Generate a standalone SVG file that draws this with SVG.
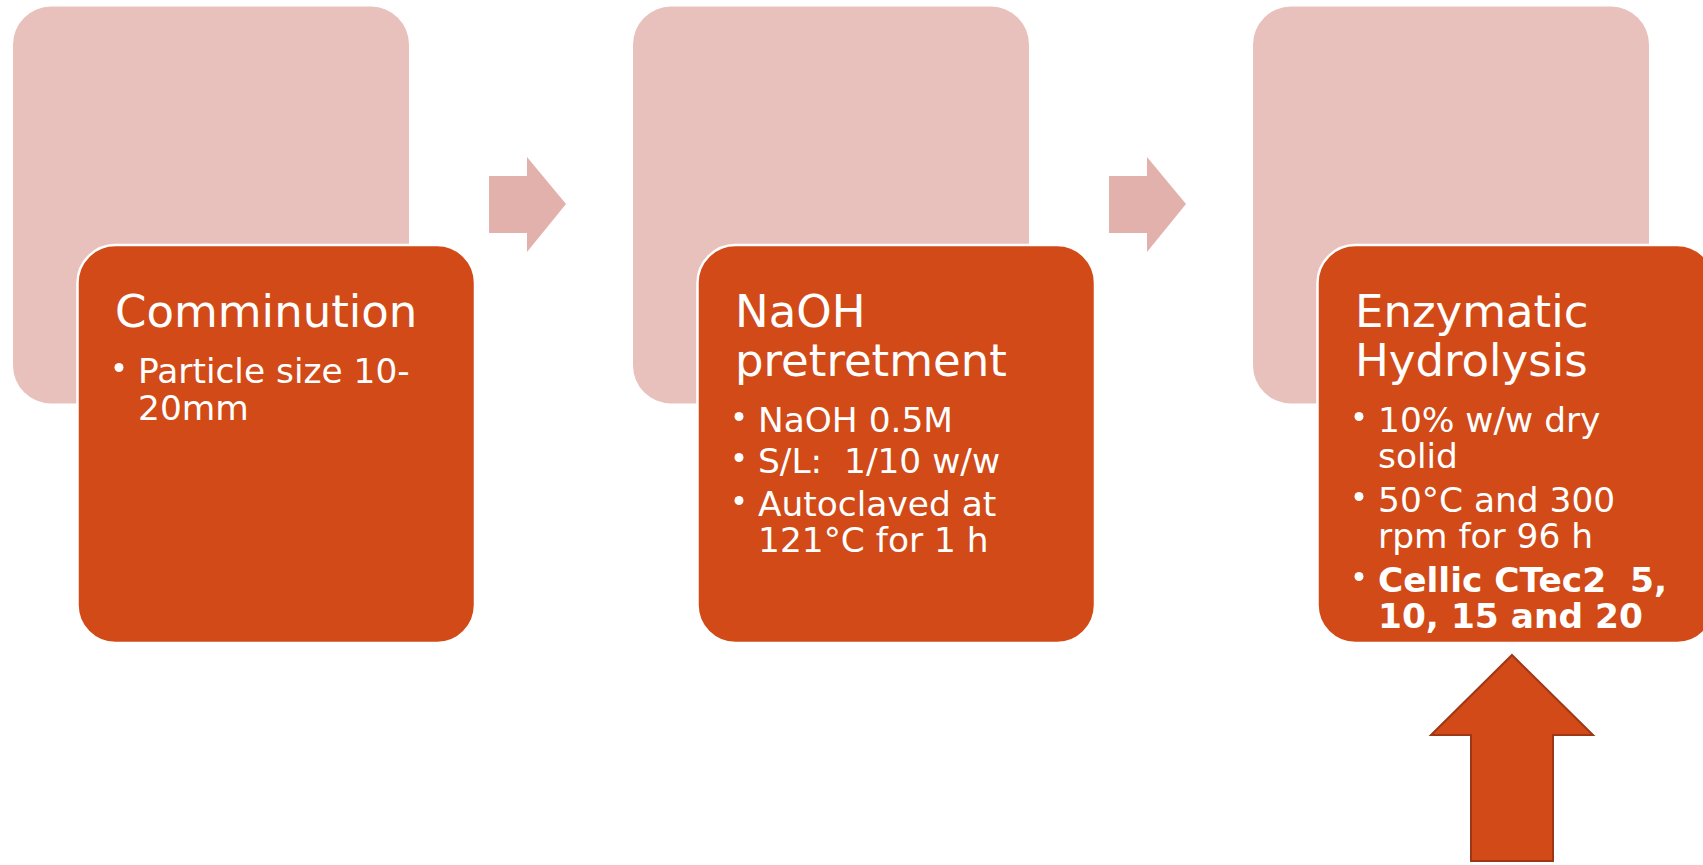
<svg xmlns="http://www.w3.org/2000/svg" width="1703" height="865" viewBox="0 0 1703 865">
  <style>
    .back { fill: #E9C1BC; }
    .card { fill: #D14A18; stroke: #FFFFFF; stroke-width: 2.5; }
    .step { fill: #E3B1AB; }
    .title { font-family: "DejaVu Sans", "Verdana", sans-serif; font-size: 45px; fill: #FFFFFF; }
    .item { font-family: "DejaVu Sans", "Verdana", sans-serif; font-size: 34.4px; fill: #FFFFFF; white-space: pre; }
    .bold { font-weight: bold; }
    .dot { fill: #FFFFFF; }
    .up { fill: #D14A18; stroke: #9E3716; stroke-width: 2; stroke-linejoin: miter; }
  </style>

  <!-- Stage 1 -->
  <g id="comminution">
    <rect class="back" x="13" y="6.5" width="396" height="397" rx="38" ry="38"/>
    <rect class="card" x="77.5" y="245" width="397.5" height="398" rx="38" ry="38"/>
    <text class="title" x="115" y="327">Comminution</text>
    <circle class="dot" cx="119" cy="367.5" r="4.5"/>
    <text class="item" x="138" y="383">Particle size 10-</text>
    <text class="item" x="138" y="420">20mm</text>
  </g>

  <!-- Stage 2 -->
  <g id="naoh-pretreatment">
    <rect class="back" x="633" y="6.5" width="396" height="397" rx="38" ry="38"/>
    <rect class="card" x="697.5" y="245" width="397.5" height="398" rx="38" ry="38"/>
    <text class="title" x="735" y="327">NaOH</text>
    <text class="title" x="735" y="376">pretretment</text>
    <circle class="dot" cx="739" cy="416.5" r="4.5"/>
    <text class="item" x="758" y="432">NaOH 0.5M</text>
    <circle class="dot" cx="739" cy="457.5" r="4.5"/>
    <text class="item" x="758" y="473">S/L:  1/10 w/w</text>
    <circle class="dot" cx="739" cy="500.5" r="4.5"/>
    <text class="item" x="758" y="516">Autoclaved at</text>
    <text class="item" x="758" y="552">121°C for 1 h</text>
  </g>

  <!-- Stage 3 -->
  <g id="enzymatic-hydrolysis">
    <rect class="back" x="1253" y="6.5" width="396" height="397" rx="38" ry="38"/>
    <rect class="card" x="1317.5" y="245" width="397.5" height="398" rx="38" ry="38"/>
    <text class="title" x="1355" y="327">Enzymatic</text>
    <text class="title" x="1355" y="376">Hydrolysis</text>
    <circle class="dot" cx="1359" cy="416.5" r="4.5"/>
    <text class="item" x="1378" y="432">10% w/w dry</text>
    <text class="item" x="1378" y="468">solid</text>
    <circle class="dot" cx="1359" cy="496.5" r="4.5"/>
    <text class="item" x="1378" y="512">50°C and 300</text>
    <text class="item" x="1378" y="548">rpm for 96 h</text>
    <circle class="dot" cx="1359" cy="576.5" r="4.5"/>
    <text class="item bold" x="1378" y="592">Cellic CTec2  5,</text>
    <text class="item bold" x="1378" y="628">10, 15 and 20</text>
  </g>

  <!-- Connectors -->
  <g id="connectors">
    <polygon class="step" points="489,176 527,176 527,157 566,204 527,252 527,233 489,233"/>
    <polygon class="step" points="1109,176 1147,176 1147,157 1186,204 1147,252 1147,233 1109,233"/>
    <polygon class="up" points="1512,655 1593,735 1553,735 1553,861 1471,861 1471,735 1431,735"/>
  </g>
</svg>
